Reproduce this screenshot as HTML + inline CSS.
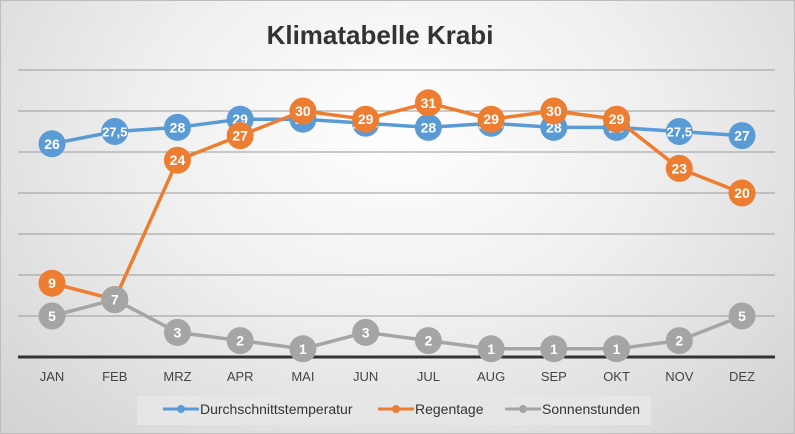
<!DOCTYPE html>
<html><head><meta charset="utf-8"><style>
body{margin:0;width:795px;height:434px;overflow:hidden;font-family:"Liberation Sans",sans-serif}
#bg{position:absolute;left:0;top:0;width:795px;height:434px;background:radial-gradient(ellipse at 50% 30%,#ffffff 0%,#efefef 45%,#d2d2d2 100%);border:1px solid #bdbdbd;box-sizing:border-box}
</style></head><body>
<div id="bg"></div>
<svg id="chart" width="795" height="434" style="position:absolute;left:0;top:0">
<text x="380" y="44" text-anchor="middle" font-size="26" font-weight="bold" fill="#333">Klimatabelle Krabi</text>
<g id="grid"></g><g id="series"></g><g id="xlabels"></g>
<rect x="137" y="396" width="514" height="29" fill="#e6e6e6"/>
<g>
<line x1="163" y1="409" x2="199" y2="409" stroke="#5b9bd5" stroke-width="3"/><circle cx="181" cy="409" r="4" fill="#5b9bd5"/>
<text x="200" y="414" font-size="14" fill="#333">Durchschnittstemperatur</text></g>
<g>
<line x1="378" y1="409" x2="414" y2="409" stroke="#ed7d31" stroke-width="3"/><circle cx="396" cy="409" r="4" fill="#ed7d31"/>
<text x="415" y="414" font-size="14" fill="#333">Regentage</text></g>
<g>
<line x1="505" y1="409" x2="541" y2="409" stroke="#a5a5a5" stroke-width="3"/><circle cx="523" cy="409" r="4" fill="#a5a5a5"/>
<text x="542" y="414" font-size="14" fill="#333">Sonnenstunden</text></g>
</svg>
<script>
const months=["JAN","FEB","MRZ","APR","MAI","JUN","JUL","AUG","SEP","OKT","NOV","DEZ"];
const tempValues=[26,27.5,28,29,29,28.5,28,28.5,28,28,27.5,27];
const rainValues=[9,7,24,27,30,29,31,29,30,29,23,20];
const sunValues=[5,7,3,2,1,3,2,1,1,1,2,5];
const gridTicks=[5,10,15,20,25,30,35];
const NS="http://www.w3.org/2000/svg";
const x=i=>52+i*62.73;
const y=v=>357-v*8.2;
function mk(t,a,p){const e=document.createElementNS(NS,t);for(const k in a)e.setAttribute(k,a[k]);p.appendChild(e);return e;}
const grid=document.getElementById('grid');
gridTicks.forEach(v=>{const l=mk('line',{x1:18,x2:775,y1:y(v),y2:y(v),stroke:'#9a9a9a','stroke-width':1},grid);

});
const ax=mk('line',{x1:18,x2:775,y1:y(0),y2:y(0),stroke:'#333','stroke-width':3},grid);


const xl=document.getElementById('xlabels');
months.forEach((m,i)=>{const t=mk('text',{x:x(i),y:381,'text-anchor':'middle','font-size':13,fill:'#444'},xl);t.textContent=m;

});
const fmt=v=>String(v).replace('.',',');
const sg=document.getElementById('series');
function draw(vals,color,name){
const g=mk('g',{},sg);


mk('polyline',{points:vals.map((v,i)=>x(i)+','+y(v)).join(' '),fill:'none',stroke:color,'stroke-width':3.5},g);
vals.forEach((v,i)=>{const c=mk('circle',{cx:x(i),cy:y(v),r:13.5,fill:color},g);


const t=mk('text',{x:x(i),y:y(v)+5,'text-anchor':'middle','font-size':String(fmt(v)).length>3?13:14,'font-weight':'bold',fill:'#fff'},g);t.textContent=fmt(v);

});}
draw(tempValues,'#5b9bd5','temperatur');
draw(rainValues,'#ed7d31','regentage');
draw(sunValues,'#a5a5a5','sonnenstunden');
</script>
</body></html>
